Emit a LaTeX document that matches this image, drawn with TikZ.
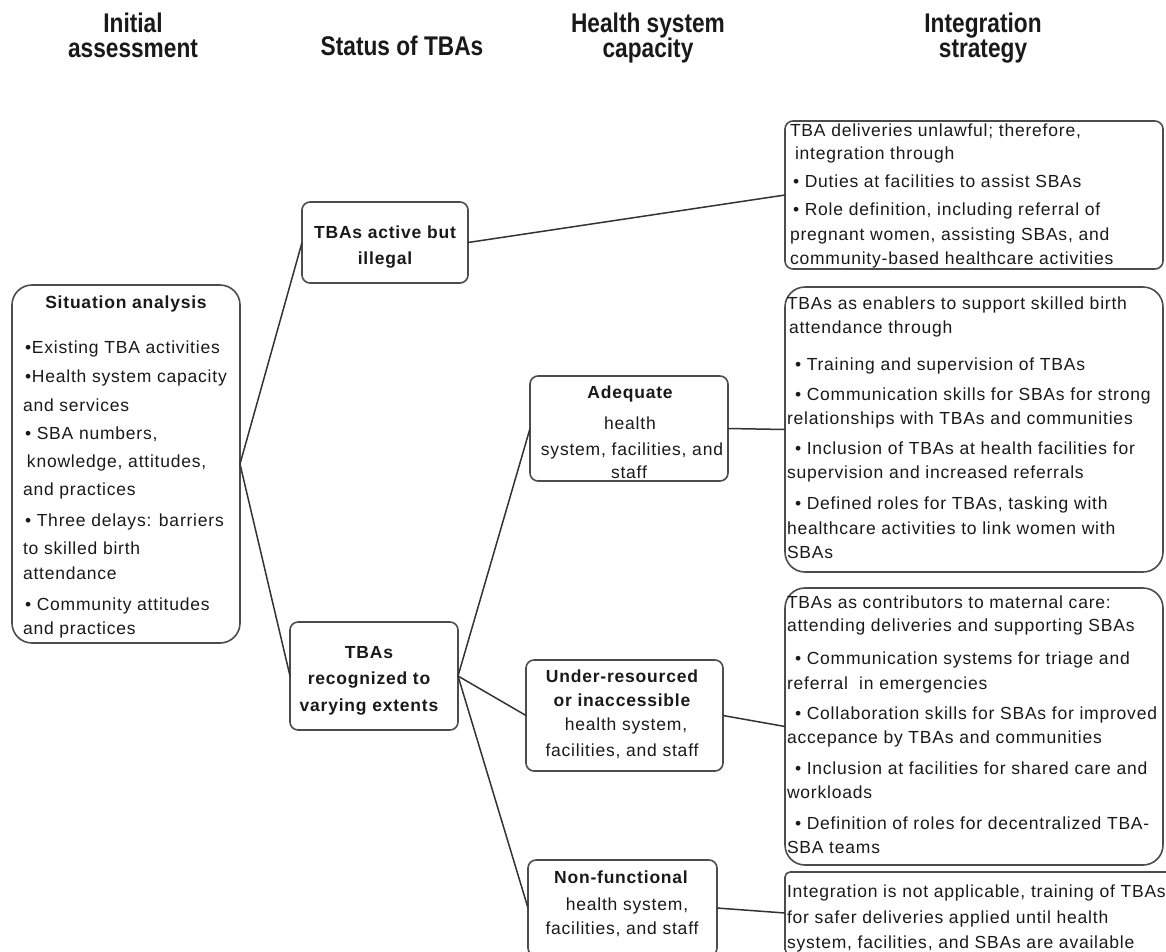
\documentclass[tikz,border=0pt]{standalone}
\usepackage{fontspec}
\setmainfont{Liberation Sans}[LetterSpace=4.5]
\newfontfamily\headfont{Liberation Sans}[FakeStretch=0.84]
\definecolor{ink}{gray}{0.1}
\definecolor{boxline}{gray}{0.3}
\definecolor{linkcol}{gray}{0.2}
\begin{document}
\begin{tikzpicture}[x=1pt,y=-1pt,
  box/.style={draw=boxline, line width=1.6pt, rounded corners=8pt, inner sep=0pt, outer sep=0pt},
  bigbox/.style={box, rounded corners=20pt},
  link/.style={draw=linkcol, line width=1.5pt},
  body/.style={inner sep=0pt, outer sep=0pt, text=ink, font=\fontsize{17.5}{24}\selectfont},
  bold/.style={body, font=\fontsize{17.5}{24}\selectfont\bfseries},
  head/.style={inner sep=0pt, outer sep=0pt, text=ink, anchor=base, font=\headfont\fontsize{27}{25}\selectfont\bfseries}]

\useasboundingbox (0,0) rectangle (1166,951);
\clip (0,0) rectangle (1166,951);

% column headings
\node[head] (h1a) at (133,32) {Initial};
\node[head] (h1b) at (133,57) {assessment};
\node[head] (h2)  at (402,55) {Status of TBAs};
\node[head] (h3a) at (648,32) {Health system};
\node[head] (h3b) at (648,57) {capacity};
\node[head] (h4a) at (983,32) {Integration};
\node[head] (h4b) at (983,57) {strategy};

% boxes
\node[bigbox, minimum width=228pt, minimum height=358pt] (sa)  at (126,464) {};
\node[box, minimum width=166pt, minimum height=81pt]     (act) at (385,242.5) {};
\node[box, minimum width=168pt, minimum height=108pt]    (rec) at (374,676) {};
\node[box, minimum width=198pt, minimum height=105pt]    (ade) at (629,428.5) {};
\node[box, minimum width=197pt, minimum height=111pt]    (und) at (624.5,715.5) {};
\node[box, minimum width=189pt, minimum height=96pt]     (non) at (622.5,908) {};
\node[box, minimum width=378pt, minimum height=148pt]    (s1)  at (974,195) {};
\node[bigbox, minimum width=378pt, minimum height=285pt] (s2)  at (974,429.5) {};
\node[bigbox, minimum width=378pt, minimum height=277pt] (s3)  at (974,726.5) {};
\node[box, rounded corners=5pt, minimum width=387pt, minimum height=82pt] (s4) at (978.5,913) {};

% connectors
\draw[link] (sa.east) -- (act.west);
\draw[link] (sa.east) -- (rec.west);
\draw[link] (act.east) -- (s1.west);
\draw[link] (rec.east) -- (ade.west);
\draw[link] (rec.east) -- (und.west);
\draw[link] (rec.east) -- (non.west);
\draw[link] (ade.east) -- (s2.west);
\draw[link] (und.east) -- (s3.west);
\draw[link] (non.east) -- (s4.west);

% situation analysis
\node[bold, anchor=base] (satitle) at (126,308) {Situation analysis};
\foreach \xx/\yy/\lbl [count=\i] in {
  25/353/{•Existing TBA activities},
  25/382/{•Health system capacity},
  23/411/{and services},
  25/439/{• SBA numbers,},
  27/467/{knowledge, attitudes,},
  23/495/{and practices},
  25/526/{• Three delays: barriers},
  23/554/{to skilled birth},
  23/579/{attendance},
  25/610/{• Community attitudes},
  23/634/{and practices}}
  \node[body, anchor=base west] (sa\i) at (\xx,\yy) {\lbl};

% status of TBAs
\node[bold, anchor=base] (act1) at (385,238) {TBAs active but};
\node[bold, anchor=base] (act2) at (385,264) {illegal};
\node[bold, anchor=base] (rec1) at (369,658) {TBAs};
\node[bold, anchor=base] (rec2) at (369,684) {recognized to};
\node[bold, anchor=base] (rec3) at (369,711) {varying extents};

% health system capacity
\node[bold, anchor=base] (ade1) at (630,398) {Adequate};
\node[body, anchor=base] (ade2) at (630,429) {health};
\node[body, anchor=base] (ade3) at (632,455) {system, facilities, and};
\node[body, anchor=base] (ade4) at (629,478) {staff};
\node[bold, anchor=base] (und1) at (622,682) {Under-resourced};
\node[bold, anchor=base] (und2) at (622,706) {or inaccessible};
\node[body, anchor=base] (und3) at (626,730) {health system,};
\node[body, anchor=base] (und4) at (622,756) {facilities, and staff};
\node[bold, anchor=base] (non1) at (621,883) {Non-functional};
\node[body, anchor=base] (non2) at (627,910) {health system,};
\node[body, anchor=base] (non3) at (622,934) {facilities, and staff};

% integration strategies
\foreach \xx/\yy/\lbl [count=\i] in {
  790/136/{TBA deliveries unlawful; therefore,},
  795/159/{integration through},
  793/187/{• Duties at facilities to assist SBAs},
  793/215/{• Role definition, including referral of},
  790/240/{pregnant women, assisting SBAs, and},
  790/264/{community-based healthcare activities}}
  \node[body, anchor=base west] (sta\i) at (\xx,\yy) {\lbl};

\foreach \xx/\yy/\lbl [count=\i] in {
  787/309/{TBAs as enablers to support skilled birth},
  789/333/{attendance through},
  795/370/{• Training and supervision of TBAs},
  795/400/{• Communication skills for SBAs for strong},
  787/424/{relationships with TBAs and communities},
  795/454/{• Inclusion of TBAs at health facilities for},
  787/478/{supervision and increased referrals},
  795/509/{• Defined roles for TBAs, tasking with},
  787/534/{healthcare activities to link women with},
  787/558/{SBAs}}
  \node[body, anchor=base west] (stb\i) at (\xx,\yy) {\lbl};

\foreach \xx/\yy/\lbl [count=\i] in {
  787/608/{TBAs as contributors to maternal care:},
  787/631/{attending deliveries and supporting SBAs},
  795/664/{• Communication systems for triage and},
  787/689/{referral\ \ in emergencies},
  795/719/{• Collaboration skills for SBAs for improved},
  787/743/{accepance by TBAs and communities},
  795/774/{• Inclusion at facilities for shared care and},
  787/798/{workloads},
  795/829/{• Definition of roles for decentralized TBA-},
  787/853/{SBA teams}}
  \node[body, anchor=base west] (stc\i) at (\xx,\yy) {\lbl};

\foreach \xx/\yy/\lbl [count=\i] in {
  787/897/{Integration is not applicable, training of TBAs},
  787/923/{for safer deliveries applied until health},
  787/948/{system, facilities, and SBAs are available}}
  \node[body, anchor=base west] (std\i) at (\xx,\yy) {\lbl};

\end{tikzpicture}
\end{document}
